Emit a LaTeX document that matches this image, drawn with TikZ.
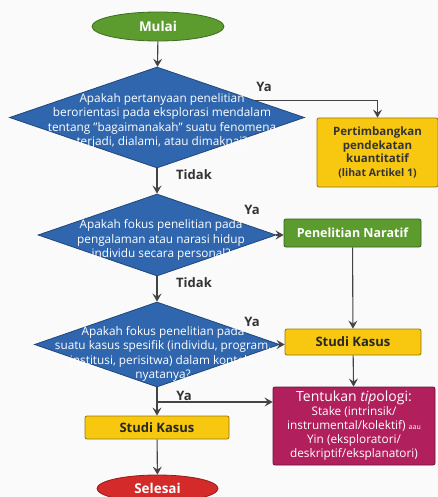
\documentclass[tikz,border=0pt]{standalone}
\usepackage{fontspec}
\setmainfont{Open Sans}
\usetikzlibrary{shapes.geometric,arrows.meta}
\definecolor{startgreen}{HTML}{5C9B2E}
\definecolor{qblue}{HTML}{2F66AE}
\definecolor{boxyellow}{HTML}{F8C810}
\definecolor{endred}{HTML}{D42A2A}
\definecolor{typmagenta}{HTML}{B1205C}
\definecolor{linegray}{HTML}{444444}
\definecolor{bggray}{HTML}{FAFAFA}
\tikzset{
  terminal/.style={ellipse, draw=#1!70!black, fill=#1, line width=0.8pt, text=white, font=\bfseries\fontsize{13.5}{15}\selectfont, minimum width=121pt, minimum height=29pt, inner sep=0pt},
  question/.style={diamond, draw=qblue!70!black, fill=qblue, line width=0.8pt, inner sep=0pt},
  qtext/.style={text=white, align=center, font=\fontsize{11.8}{14.3}\selectfont, inner sep=0pt},
  result/.style={rectangle, rounded corners=2pt, draw=#1!60!black, fill=#1, line width=0.8pt, align=center, inner sep=0pt},
  answer/.style={font=\bfseries\fontsize{13}{14}\selectfont, text=black!80, inner sep=0pt},
  flow/.style={draw=linegray, line width=1.1pt, -{Stealth[length=8pt,width=9pt,inset=3pt]}},
}
\begin{document}
\begin{tikzpicture}[x=1pt,y=-1pt]
\fill[bggray] (0,0) rectangle (438,497);
\clip (0,0) rectangle (438,497);
\useasboundingbox (0,0) rectangle (438,497);

\node[terminal=startgreen, minimum width=132pt] (mulai) at (158,26.5) {Mulai};

\node[question, minimum width=295pt, minimum height=101pt] (q1) at (157,117.5) {};
\node[qtext] (q1txt) at (162,121) {Apakah pertanyaan penelitian\\berorientasi pada eksplorasi mendalam\\tentang "bagaimanakah" suatu fenomena\\terjadi, dialami, atau dimaknai?};

\node[result=boxyellow, minimum width=121pt, minimum height=69pt, font=\bfseries\fontsize{11.5}{13.5}\selectfont, text=black!80] (kuan) at (377.5,152.5) {Pertimbangkan\\pendekatan\\kuantitatif\\{\fontsize{10.5}{12}\selectfont(lihat Artikel 1)}};

\node[question, minimum width=238pt, minimum height=82pt] (q2) at (157,235) {};
\node[qtext] (q2txt) at (161,240) {Apakah fokus penelitian pada\\pengalaman atau narasi hidup\\individu secara personal?};

\node[result=startgreen, minimum width=137pt, minimum height=28pt, font=\bfseries\fontsize{12.5}{14}\selectfont, text=white] (naratif) at (352.5,233) {Penelitian Naratif};

\node[question, minimum width=245pt, minimum height=85pt] (q3) at (157,344.5) {};
\node[qtext] (q3txt) at (163,354) {Apakah fokus penelitian pada\\suatu kasus spesifik (individu, program,\\institusi, perisitwa) dalam konteks\\nyatanya?};

\node[result=boxyellow, minimum width=136pt, minimum height=26pt, font=\bfseries\fontsize{13}{14}\selectfont, text=black!85] (studi1) at (353,342) {Studi Kasus};

\node[result=typmagenta, minimum width=162pt, minimum height=78pt, text=white, font=\fontsize{11.8}{14}\selectfont] (tipologi) at (354,426) {{\fontsize{14}{16}\selectfont Tentukan \textit{tip}ologi:}\\Stake (intrinsik/\\instrumental/kolektif) {\fontsize{7}{8}\selectfont aau}\\Yin (eksploratori/\\deskriptif/eksplanatori)};

\node[result=boxyellow, minimum width=144pt, minimum height=23pt, font=\bfseries\fontsize{13}{14}\selectfont, text=black!85] (studi2) at (157,427.5) {Studi Kasus};

\node[terminal=endred, minimum height=27pt] (selesai) at (157.5,488.5) {Selesai};

\coordinate (split) at (157,402);

% connectors
\draw[flow] (mulai) -- (q1);
\draw[flow] (q1.10.7) -| (kuan);
\draw[flow] (q1) -- (q2);
\draw[flow] (q2.east) -- (q2.east -| naratif.west);
\draw[flow] (q2) -- (q3);
\draw[flow] (q3.east) -- (q3.east -| studi1.west);
\draw[flow] (naratif) -- (studi1);
\draw[flow] (studi1) -- (tipologi);
\draw[draw=linegray, line width=1.1pt] (q3.south) -- (split);
\draw[flow] (split) -- (split -| tipologi.west);
\draw[flow] (split) -- (studi2);
\draw[flow] (studi2) -- (selesai);

% answer labels
\node[answer] (ya1) at (264,87) {Ya};
\node[answer] (tidak1) at (194,175) {Tidak};
\node[answer] (ya2) at (252,210) {Ya};
\node[answer] (tidak2) at (194,283) {Tidak};
\node[answer] (ya3) at (252,322) {Ya};
\node[answer] (ya4) at (184,396) {Ya};
\end{tikzpicture}
\end{document}
